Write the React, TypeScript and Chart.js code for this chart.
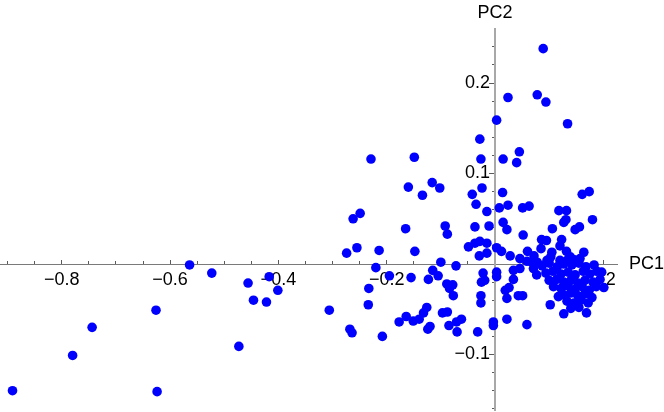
import React, { useEffect, useRef } from 'react';
import { Chart, registerables } from 'chart.js';

Chart.register(...registerables);

const xAxisLabel = 'PC1';
const yAxisLabel = 'PC2';

const xRange = [-0.9141, 0.2253];
const yRange = [-0.1613, 0.2597];
const xMajorStep = 0.2;
const xMinorStep = 0.05;
const yMajorStep = 0.1;
const yMinorStep = 0.02;

const pc1 = [
  -0.891, -0.780, -0.744, -0.626, -0.624, -0.564, -0.523, -0.473, -0.456, -0.446,
  -0.422, -0.417, -0.401, -0.306, -0.274, -0.255, -0.268, -0.264, -0.234, -0.233,
  -0.220, -0.214, -0.208, -0.195, -0.155, -0.148, -0.177, -0.164, -0.151, -0.140,
  -0.132, -0.126, -0.124, -0.120, -0.115, -0.123, -0.105, -0.100, -0.097, -0.088,
  -0.089, -0.078, -0.084, -0.077, -0.072, -0.085, -0.071, -0.062, -0.070, -0.032,
  -0.049, -0.037, -0.028, -0.029, -0.015, -0.022, -0.019, -0.026, -0.026,
  0.089, 0.024, 0.078, 0.094, 0.003, 0.134, -0.028, -0.026, 0.015, 0.045,
  0.040, -0.042, -0.024, -0.035, 0.014, -0.015, 0.008, 0.024, 0.051, 0.063,
  -0.037, -0.011, 0.015, 0.022, 0.052, 0.118, 0.132, 0.131, 0.127, 0.106,
  0.148, 0.156, 0.161, 0.174, 0.180, -0.229, -0.149, -0.160, -0.116, -0.102,
  -0.134, -0.249, -0.262, -0.165, -0.092, -0.088,
  -0.015, 0.003, 0.012, 0.028, 0.046, 0.060, 0.072, 0.086, 0.095, 0.085,
  0.123, 0.120, 0.105, 0.132, 0.164, 0.157, 0.096, 0.120, 0.133, 0.145,
  0.059, 0.068, 0.078, 0.139, 0.103,
  0.003, 0.003, 0.034, 0.046, 0.034, 0.019, 0.026, 0.022, 0.043, 0.051,
  0.071, 0.077, 0.102, 0.127, 0.169, 0.108, 0.117, 0.197, 0.201, -0.003,
  -0.003, 0.022, 0.059, -0.025,
  0.087, 0.100, 0.115, 0.127, 0.142, 0.155, 0.168, 0.183,
  0.094, 0.107, 0.122, 0.135, 0.148, 0.163, 0.175, 0.188,
  0.100, 0.114, 0.127, 0.140, 0.153, 0.166, 0.181, 0.194,
  0.122, 0.135, 0.148, 0.161, 0.174, 0.187,
  0.127, 0.140, 0.153, 0.166, 0.179,
  0.133, 0.146, 0.159, 0.172,
  0.140, 0.155,
];

const pc2 = [
  -0.140, -0.101, -0.070, -0.051, -0.141, -0.001, -0.010, -0.091, -0.021, -0.040,
  -0.042, -0.014, -0.029, -0.051, 0.012, 0.018, -0.072, -0.076, -0.045, -0.027,
  -0.004, 0.015, -0.080, -0.013, -0.015, 0.014, -0.064, -0.058, -0.063, -0.061,
  -0.054, -0.048, -0.072, -0.069, -0.007, -0.017, -0.013, 0.002, -0.054, -0.053,
  -0.022, -0.023, -0.027, -0.035, -0.002, -0.068, -0.064, -0.061, -0.075, -0.075,
  0.019, 0.023, 0.025, 0.009, 0.012, -0.010, -0.018, -0.035, -0.043,
  0.238, 0.184, 0.187, 0.179, 0.159, 0.155, 0.138, 0.116, 0.116, 0.124,
  0.112, 0.077, 0.084, 0.066, 0.079, 0.058, 0.062, 0.065, 0.062, 0.064,
  0.041, 0.042, 0.046, 0.038, 0.032, 0.059, 0.059, 0.049, 0.046, 0.039,
  0.038, 0.041, 0.077, 0.080, 0.049, 0.116, 0.118, 0.085, 0.090, 0.084,
  0.076, 0.056, 0.050, 0.039, 0.042, 0.033,
  0.023, 0.018, 0.014, 0.009, 0.006, 0.014, 0.009, 0.027, 0.026, 0.017,
  0.027, 0.020, 0.013, 0.014, 0.013, 0.006, 0.004, 0.004, 0.004, 0.005,
  0.003, 0.002, 0.002, 0.008, 0.008,
  -0.009, -0.014, -0.007, -0.005, -0.017, -0.029, -0.026, -0.038, -0.035, -0.035,
  -0.005, -0.012, -0.045, -0.055, -0.054, -0.025, -0.036, -0.009, -0.026, -0.064,
  -0.068, -0.061, -0.067, -0.020,
  -0.002, 0.001, -0.003, 0.000, -0.001, 0.001, -0.003, -0.001,
  -0.010, -0.008, -0.011, -0.009, -0.012, -0.008, -0.011, -0.008,
  -0.018, -0.017, -0.020, -0.018, -0.021, -0.018, -0.020, -0.017,
  -0.027, -0.024, -0.028, -0.025, -0.029, -0.025,
  -0.034, -0.032, -0.035, -0.033, -0.037,
  -0.041, -0.043, -0.040, -0.043,
  -0.049, -0.048,
];

const FONT_FAMILY = '"Liberation Sans", Arial, sans-serif';
const X_AXIS_GRAY = '#7a7a7a';
const Y_AXIS_GRAY = '#a8a8a8';
const TICK_GRAY = '#5a5a5a';
const isZero = (v: number) => Math.abs(v) < 1e-9;
const fmt = (v: number) => (isZero(v) ? '' : (v < 0 ? '\u2212' : '') + Math.abs(v).toFixed(1));
const tickColor = (ctx: any) => (ctx.tick && isZero(ctx.tick.value) ? 'rgba(0,0,0,0)' : TICK_GRAY);

const axisTitles = {
  id: 'axisTitles',
  afterDraw(chart: any) {
    const { ctx, scales } = chart;
    const xs = scales.x;
    const ys = scales.y;
    ctx.save();
    ctx.font = `18px ${FONT_FAMILY}`;
    ctx.fillStyle = '#000';
    ctx.textBaseline = 'middle';
    ctx.textAlign = 'left';
    ctx.fillText(xAxisLabel, xs.right + 12, ys.getPixelForValue(0));
    ctx.textAlign = 'center';
    ctx.fillText(yAxisLabel, xs.getPixelForValue(0), ys.top - 16);
    ctx.restore();
  },
};

const noSpace = (s: any) => {
  if (s.isHorizontal()) s.height = 0; else s.width = 0;
  s.paddingTop = 0;
  s.paddingBottom = 0;
  s.paddingLeft = 0;
  s.paddingRight = 0;
};

export default function App() {
  const ref = useRef<HTMLCanvasElement | null>(null);

  useEffect(() => {
    if (!ref.current) return;
    const points = pc1.map((x, i) => ({ x, y: pc2[i] }));
    const chart = new Chart(ref.current, {
      type: 'scatter',
      data: {
        datasets: [
          {
            data: points,
            backgroundColor: '#0000ff',
            borderWidth: 0,
            pointRadius: 4.8,
            pointHoverRadius: 4.8,
            clip: false as any,
          },
        ],
      },
      options: {
        responsive: false,
        animation: false,
        events: [],
        layout: { autoPadding: false, padding: { left: 0, right: 47, top: 29, bottom: 2 } },
        plugins: { legend: { display: false }, tooltip: { enabled: false } },
        scales: {
          x: {
            type: 'linear',
            min: xRange[0],
            max: xRange[1],
            position: { y: 0 } as any,
            afterFit: noSpace,
            border: { display: true, color: X_AXIS_GRAY, width: 1 },
            grid: { display: true, drawOnChartArea: false, drawTicks: true, tickLength: -5, tickColor, tickWidth: 1 },
            ticks: {
              stepSize: xMajorStep,
              includeBounds: false,
              autoSkip: false,
              maxRotation: 0,
              padding: 10,
              color: '#000',
              font: { family: FONT_FAMILY, size: 18 },
              callback: (v: any) => fmt(Number(v)),
            },
          },
          xMinor: {
            type: 'linear',
            axis: 'x',
            min: xRange[0],
            max: xRange[1],
            position: { y: 0 } as any,
            afterFit: noSpace,
            border: { display: false },
            grid: { display: true, drawOnChartArea: false, drawTicks: true, tickLength: -3, tickColor, tickWidth: 1 },
            ticks: { stepSize: xMinorStep, includeBounds: false, autoSkip: false, display: false },
          },
          y: {
            type: 'linear',
            min: yRange[0],
            max: yRange[1],
            position: { x: 0 } as any,
            afterFit: noSpace,
            border: { display: true, color: Y_AXIS_GRAY, width: 2 },
            grid: { display: true, drawOnChartArea: false, drawTicks: true, tickLength: 5, tickColor, tickWidth: 1 },
            ticks: {
              stepSize: yMajorStep,
              includeBounds: false,
              autoSkip: false,
              color: '#000',
              font: { family: FONT_FAMILY, size: 18 },
              callback: (v: any) => { const s = fmt(Number(v)); return s ? s + ' ' : ''; },
            },
          },
          yMinor: {
            type: 'linear',
            axis: 'y',
            min: yRange[0],
            max: yRange[1],
            position: { x: 0 } as any,
            afterFit: noSpace,
            border: { display: false },
            grid: { display: true, drawOnChartArea: false, drawTicks: true, tickLength: 3, tickColor, tickWidth: 1 },
            ticks: { stepSize: yMinorStep, includeBounds: false, autoSkip: false, display: false },
          },
        } as any,
      },
      plugins: [axisTitles],
    });
    return () => chart.destroy();
  }, []);

  return (
    <div style={{ position: 'absolute', left: 0, top: 0, width: 664, height: 412, background: '#fff' }}>
      <canvas ref={ref} width={664} height={412} style={{ display: 'block' }} />
    </div>
  );
}
